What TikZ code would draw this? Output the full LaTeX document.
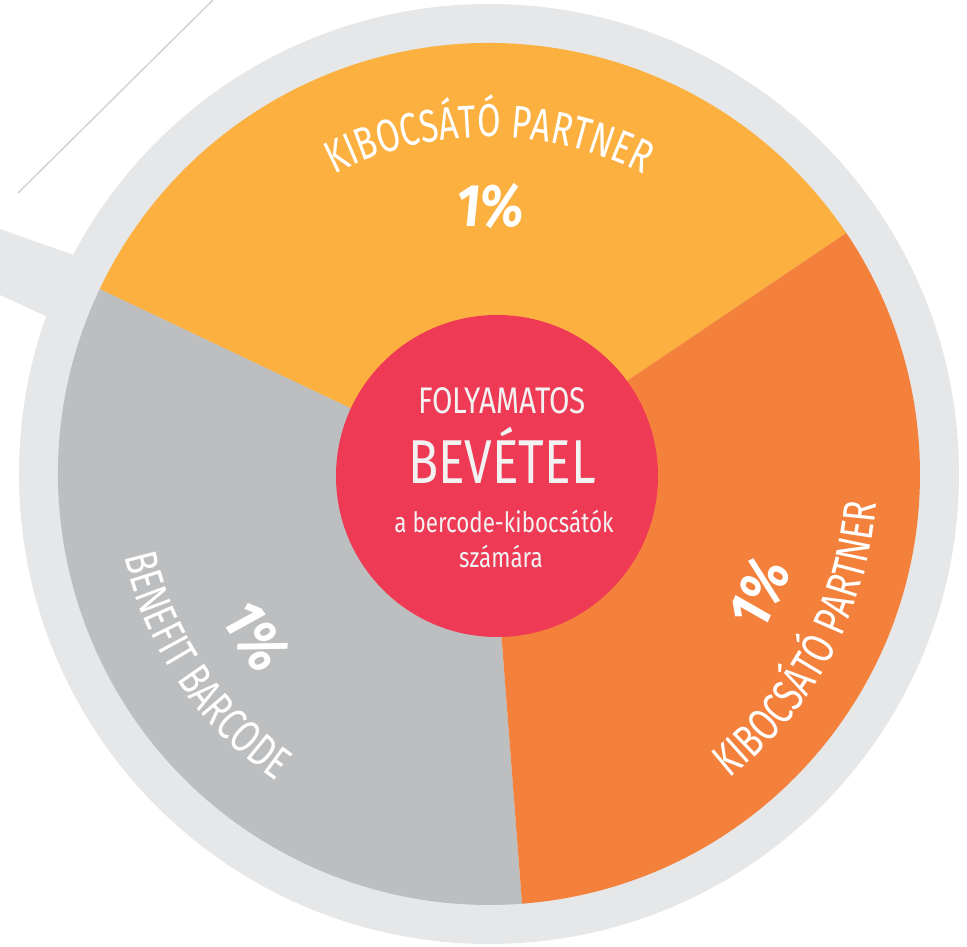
\documentclass[tikz,border=0pt]{standalone}
\usepackage{fontspec}
\usetikzlibrary{decorations.text}
\newfontfamily\lblfont[FakeStretch=0.8]{Fira Sans}
\newfontfamily\arcfont[FakeStretch=0.74]{Fira Sans}
\newfontfamily\pctfont[FakeStretch=0.85,FakeSlant=0.1]{Fira Sans}
\definecolor{ringgray}{HTML}{E6E7E8}
\definecolor{linegray}{HTML}{D1D3D4}
\definecolor{yellowpart}{HTML}{FBB040}
\definecolor{orangepart}{HTML}{F3813C}
\definecolor{graypart}{HTML}{BCBEC0}
\definecolor{redcore}{HTML}{EE3A55}
\definecolor{coretext}{HTML}{F2F2F3}

\begin{document}
\begin{tikzpicture}[x=1pt,y=1pt,
    arclabel/.style={decorate,decoration={text along path,text align=center,
        text={|\arcfont\fontsize{46}{46}\selectfont\color{white}|#1}}},
    pct/.style={text=white,font=\pctfont\bfseries\fontsize{60}{60}\selectfont,inner sep=0pt},
    core/.style={text=coretext,anchor=base,inner sep=0pt}]
        \useasboundingbox (-489,-472) rectangle (478,474);

        \coordinate (linea) at (-471,281);
        \coordinate (lineb) at (-276,474);
        \draw[linegray,line width=1.5pt] (linea) -- (lineb);

        \fill[ringgray] (-489,245) -- (-339,192) -- (-339,110) -- (-489,179) -- cycle;
        \fill[ringgray] (0,0) circle[radius=470];

        \fill[yellowpart] (0,0) -- (34:431) arc[start angle=34, end angle=154.6, radius=431] -- cycle;
        \fill[graypart] (0,0) -- (154.6:431) arc[start angle=154.6, end angle=274.4, radius=431] -- cycle;
        \fill[orangepart] (0,0) -- (274.4:431) arc[start angle=274.4, end angle=394, radius=431] -- cycle;

        \path[arclabel={KIBOCSÁTÓ PARTNER}] (130:337) arc[start angle=130, end angle=50, radius=337];
        \path[arclabel={KIBOCSÁTÓ PARTNER}] (292:388) arc[start angle=292, end angle=372, radius=388];
        \path[arclabel={BENEFIT BARCODE}] (174:374) arc[start angle=174, end angle=254, radius=374];

        \node[pct] (pyellow) at (90:268) {1\%};
        \node[pct,rotate=66] (porange) at (336:295) {1\%};
        \node[pct,rotate=-55.5] (pgray) at (214.5:284) {1\%};

        \node[fill=redcore,circle,minimum size=322pt,inner sep=0pt] (core) at (8,-2) {};
        \node[core,font=\lblfont\fontsize{37}{37}\selectfont] (folyam) at (13,61) {FOLYAMATOS};
        \node[core,font=\lblfont\fontsize{62}{62}\selectfont] (bevetel) at (13,-9) {BEVÉTEL};
        \node[core,font=\lblfont\fontsize{28}{28}\selectfont] (bercode) at (15,-58) {a bercode-kibocsátók};
        \node[core,font=\lblfont\fontsize{28}{28}\selectfont] (szamara) at (12,-93) {számára};
\end{tikzpicture}
\end{document}
